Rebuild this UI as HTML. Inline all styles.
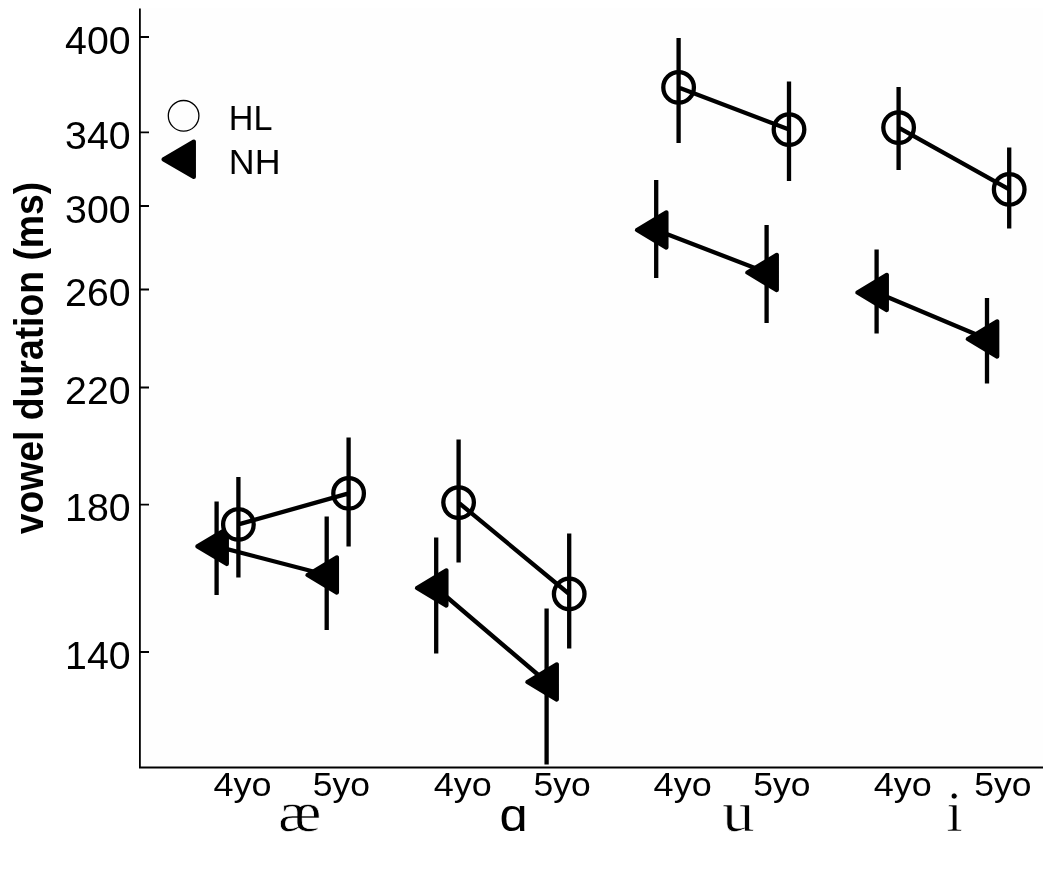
<!DOCTYPE html>
<html lang="en"><head><meta charset="utf-8"><title>Vowel duration</title>
<style>html,body{margin:0;padding:0;background:#fff}body{width:1050px;height:870px;overflow:hidden}svg{display:block}text{font-family:"Liberation Sans",sans-serif;fill:#000}.tick{font-size:39px}.xl{font-size:34px}.leg{font-size:35.8px}.yl{font-size:40.5px;font-weight:bold}.ser{font-family:"Liberation Serif",serif;font-size:58px;stroke:#fff;stroke-width:.7px}.d{stroke:#000;stroke-width:4.3;fill:none}.c{fill:#fefefe}.t{stroke:#000;stroke-width:4.3;fill:#000;stroke-linejoin:round}.ax{stroke:#000;stroke-width:1.8;fill:none}</style></head><body>
<svg width="1050" height="870" viewBox="0 0 1050 870">
<rect x="0" y="0" width="1050" height="870" fill="#fff"/>
<rect x="140" y="8" width="903" height="759.5" fill="#fefefe"/>
<path class="ax" d="M139.9 8.4V767.5M139 767.5H1043"/>
<path class="ax" d="M140 37H149M140 132.3H149M140 206H149M140 289.5H149M140 387.5H149M140 504.6H149M140 652H149"/>
<text class="tick" transform="translate(130.6 53.7) scale(1.008 1)" text-anchor="end">400</text>
<text class="tick" transform="translate(130.6 149.0) scale(1.008 1)" text-anchor="end">340</text>
<text class="tick" transform="translate(130.6 222.7) scale(1.008 1)" text-anchor="end">300</text>
<text class="tick" transform="translate(130.6 306.2) scale(1.008 1)" text-anchor="end">260</text>
<text class="tick" transform="translate(130.6 404.2) scale(1.008 1)" text-anchor="end">220</text>
<text class="tick" transform="translate(130.6 521.3) scale(1.008 1)" text-anchor="end">180</text>
<text class="tick" transform="translate(130.6 668.7) scale(1.008 1)" text-anchor="end">140</text>
<text class="yl" transform="translate(43.4 534.3) rotate(-90)" textLength="352.5" lengthAdjust="spacingAndGlyphs">vowel duration (ms)</text>
<circle cx="183.6" cy="115.8" r="15.3" stroke="#000" stroke-width="1.3" fill="none"/>
<path class="t" d="M163.6 159.3L193.8 141.7V176.9Z"/>
<text class="leg" transform="translate(228.8 129.5) scale(.955 1)">HL</text>
<text class="leg" transform="translate(228.8 173.5) scale(1 1)">NH</text>
<path class="d" d="M216.6 501.6V595M326.7 516.5V630M216.6 546.4L326.7 575"/>
<path class="t" d="M197.4 546.4L226.8 528.8V564.0Z"/>
<path class="t" d="M307.5 575.0L336.9 557.4V592.6Z"/>
<path class="d" d="M436.2 537.4V653.4M546.6 608.4V764.6M436.2 588L546.6 682"/>
<path class="t" d="M417.0 588.0L446.4 570.4V605.6Z"/>
<path class="t" d="M527.4 682.0L556.8 664.4V699.6Z"/>
<path class="d" d="M656.2 180V278M766.6 225V323M656.2 230L766.6 272.5"/>
<path class="t" d="M637.0 230.0L666.4 212.4V247.6Z"/>
<path class="t" d="M747.4 272.5L776.8 254.9V290.1Z"/>
<path class="d" d="M876.6 249.6V333.6M987 298V383.4M876.6 292.5L987 339"/>
<path class="t" d="M857.4 292.5L886.8 274.9V310.1Z"/>
<path class="t" d="M967.8 339.0L997.2 321.4V356.6Z"/>
<circle class="d c" cx="238.4" cy="524.4" r="15.3"/>
<circle class="d c" cx="348.6" cy="493.4" r="15.3"/>
<path class="d" d="M238.4 477V577.6M348.6 437.4V546.4M238.4 524.4L348.6 493.4"/>
<circle class="d c" cx="458.6" cy="502.6" r="15.3"/>
<circle class="d c" cx="569.2" cy="594" r="15.3"/>
<path class="d" d="M458.6 439.6V562.6M569.2 533.5V648.5M458.6 502.6L569.2 594"/>
<circle class="d c" cx="678.6" cy="87.4" r="15.3"/>
<circle class="d c" cx="789" cy="129.6" r="15.3"/>
<path class="d" d="M678.6 38V143M789 81.6V181M678.6 87.4L789 129.6"/>
<circle class="d c" cx="898.6" cy="127.6" r="15.3"/>
<circle class="d c" cx="1009.2" cy="189.4" r="15.3"/>
<path class="d" d="M898.6 87V170M1009.2 147.4V228.4M898.6 127.6L1009.2 189.4"/>
<text class="xl" transform="translate(213.5 795.8) scale(1.06 1)">4yo</text>
<text class="xl" transform="translate(312.7 795.8) scale(1.045 1)">5yo</text>
<text class="xl" transform="translate(433.8 795.8) scale(1.06 1)">4yo</text>
<text class="xl" transform="translate(533.4 795.8) scale(1.045 1)">5yo</text>
<text class="xl" transform="translate(653.6 795.8) scale(1.06 1)">4yo</text>
<text class="xl" transform="translate(753.2 795.8) scale(1.045 1)">5yo</text>
<text class="xl" transform="translate(873.8 795.8) scale(1.06 1)">4yo</text>
<text class="xl" transform="translate(974.2 795.8) scale(1.045 1)">5yo</text>
<text class="ser" transform="translate(277.9 830.9) scale(1.12 1)">æ</text>
<text transform="translate(499.6 831) scale(1.1 1)" style="font-size:46px">ɑ</text>
<text class="ser" transform="translate(722.3 830.7) scale(1.11 1)">u</text>
<text class="ser" x="946.4" y="830.6">i</text>
</svg></body></html>
